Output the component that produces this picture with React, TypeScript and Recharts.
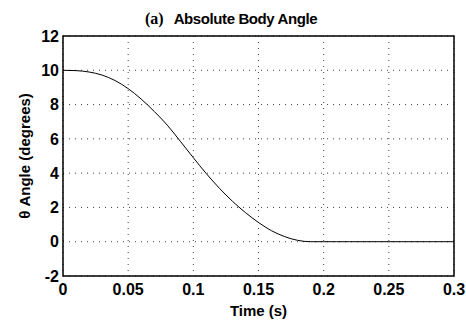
import React from 'react';
import { LineChart, Line, XAxis, YAxis, CartesianGrid, ReferenceArea } from 'recharts';

// time samples (s) and body angle (degrees)
const times = [
  0, 0.01, 0.02, 0.03, 0.04, 0.05, 0.06, 0.07, 0.08, 0.09, 0.1,
  0.11, 0.12, 0.13, 0.14, 0.15, 0.16, 0.17, 0.18, 0.19, 0.2,
  0.21, 0.22, 0.23, 0.24, 0.25, 0.26, 0.27, 0.28, 0.29, 0.3,
];
const angles = [
  10, 9.98, 9.9, 9.72, 9.4, 8.93, 8.32, 7.6, 6.8, 5.86, 4.9,
  3.97, 3.12, 2.36, 1.7, 1.12, 0.64, 0.3, 0.08, 0, 0,
  0, 0, 0, 0, 0, 0, 0, 0, 0, 0,
];
const xTicks = [0, 0.05, 0.1, 0.15, 0.2, 0.25, 0.3];
const yTicks = [-2, 0, 2, 4, 6, 8, 10, 12];

const data = times.map((t, i) => ({ t, angle: angles[i] }));

const FONT = '"Liberation Sans", Arial, sans-serif';
const tickStyle = { fill: '#000', fontSize: 16, fontWeight: 'bold', fontFamily: FONT };

const App: React.FC = () => {
  return (
    <div style={{ position: 'absolute', left: 0, top: 0, width: 466, height: 321, background: '#fff' }}>
      <div
        style={{
          position: 'absolute',
          left: 145,
          top: 11,
          lineHeight: '15px',
          whiteSpace: 'nowrap',
          fontWeight: 'bold',
          color: '#000',
        }}
      >
        <span style={{ fontFamily: '"Liberation Serif", serif', fontSize: 16 }}>(a)</span>
        <span style={{ fontFamily: FONT, fontSize: 15, marginLeft: 10, letterSpacing: -0.4 }}>Absolute Body Angle</span>
      </div>
      <LineChart
        width={466}
        height={321}
        data={data}
        margin={{ top: 36, right: 12, left: 33, bottom: 0 }}
      >
        <CartesianGrid stroke="#444" strokeDasharray="1 5" />
        <XAxis
          dataKey="t"
          type="number"
          domain={[0, 0.3]}
          ticks={xTicks}
          tickFormatter={(v) => String(v)}
          tick={tickStyle}
          tickLine={false}
          axisLine={false}
          height={45}
          label={{
            value: 'Time (s)',
            position: 'insideBottom',
            offset: 5,
            style: { fill: '#000', fontSize: 15, fontWeight: 'bold', fontFamily: FONT },
          }}
        />
        <YAxis
          type="number"
          domain={[-2, 12]}
          ticks={yTicks}
          tick={tickStyle}
          tickLine={false}
          axisLine={false}
          tickSize={4}
          tickMargin={0}
          width={30}
          label={{
            content: () => (
              <text
                x={30}
                y={156}
                transform="rotate(-90 30 156)"
                textAnchor="middle"
                fill="#000"
                fontSize={15}
                fontWeight="bold"
                fontFamily={FONT}
              >
                θ Angle (degrees)
              </text>
            ),
          }}
        />
        <ReferenceArea x1={0} x2={0.3} y1={-2} y2={12} fill="none" stroke="#000" strokeWidth={1.5} />
        <Line
          type="monotone"
          dataKey="angle"
          stroke="#000"
          strokeWidth={1}
          dot={false}
          isAnimationActive={false}
        />
      </LineChart>
    </div>
  );
};

export default App;
